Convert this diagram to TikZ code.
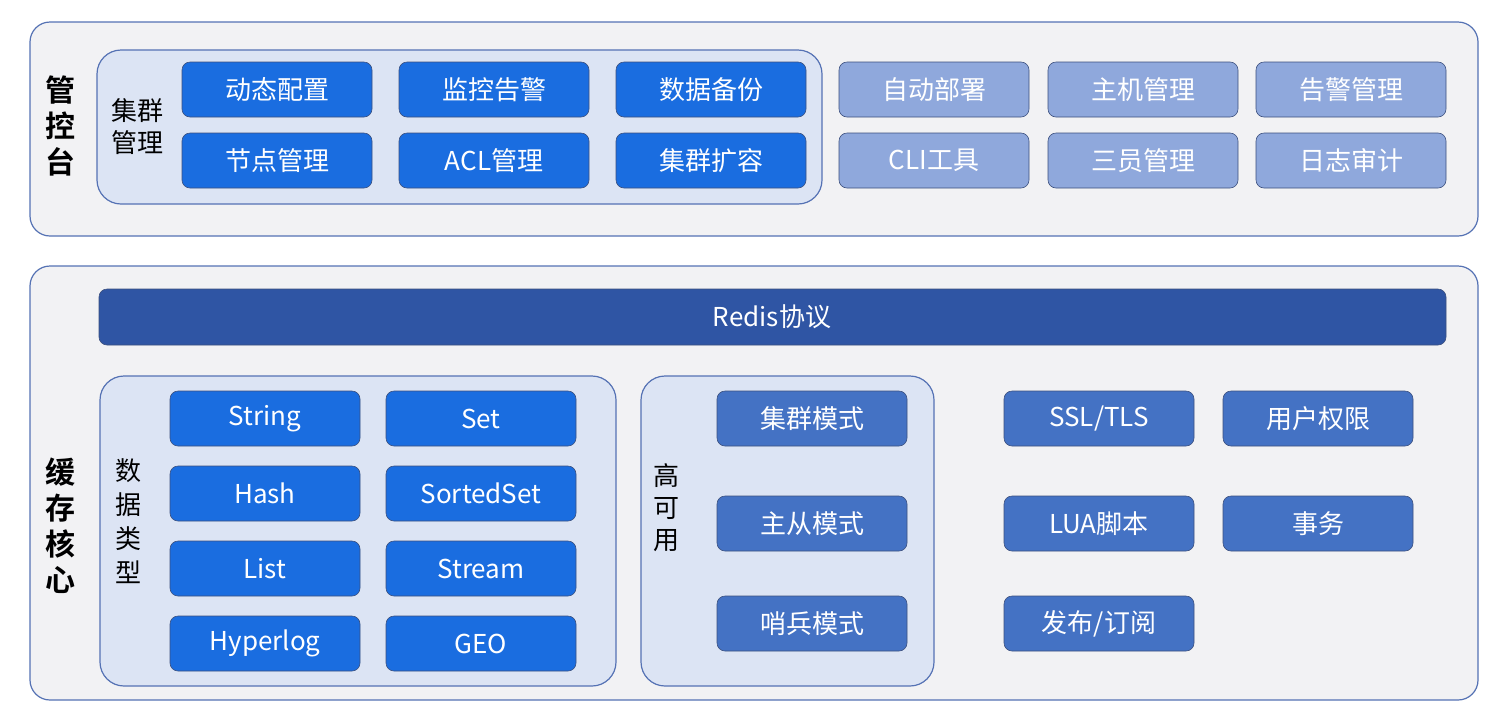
\documentclass[tikz,border=0pt]{standalone}
\usepackage{fontspec}
\setmainfont{Noto Sans CJK SC}
\newfontfamily\cjkbold[BoldFont={* Bold}]{Noto Sans CJK SC}
\definecolor{panelfill}{HTML}{F2F2F4}
\definecolor{panelline}{HTML}{5572B4}
\definecolor{groupfill}{HTML}{DCE4F4}
\definecolor{brightblue}{HTML}{1A6DE0}
\definecolor{paleblue}{HTML}{8FA8DC}
\definecolor{midblue}{HTML}{4472C4}
\definecolor{darkblue}{HTML}{2F55A4}
\tikzset{
  panel/.style={draw=panelline,fill=panelfill,line width=0.6pt,rounded corners=10pt},
  group/.style={draw=panelline,fill=groupfill,line width=0.6pt,rounded corners=12pt},
  item/.style={draw=panelline!70!black,line width=0.3pt,rounded corners=4pt,text=white,font=\fontsize{13}{13}\selectfont},
}
\newcommand{\itembox}[5]{% name, x0, y0, colour, text
  \draw[item,fill=#4] (#2,#3) rectangle ++(190,55);
  \node[text=white,font=\fontsize{13}{13}\selectfont] (#1) at (#2+95,#3+27.5) {#5};
}
\begin{document}
\begin{tikzpicture}[x=0.5pt,y=-0.5pt]
\useasboundingbox (0,0) rectangle (1502,719);
\fill[white] (0,0) rectangle (1502,719);
% panels
\draw[panel] (30,22) rectangle (1478,236);
\draw[panel] (30,266) rectangle (1478,700);
\draw[group] (97,50) rectangle (822,204);
\draw[group] (100,376) rectangle (616,686);
\draw[group] (641,376) rectangle (934,686);
% side titles
\node[font=\cjkbold\bfseries\fontsize{15}{18}\selectfont,align=center] (console) at (60,126) {管\\控\\台};
\node[font=\cjkbold\bfseries\fontsize{15}{18}\selectfont,align=center] (core) at (60,526) {缓\\存\\核\\心};
\node[font=\fontsize{13}{16}\selectfont,align=center] (cluster) at (137,127) {集群\\管理};
\node[font=\fontsize{13}{17}\selectfont,align=center] (types) at (128,521) {数\\据\\类\\型};
\node[font=\fontsize{13}{16}\selectfont,align=center] (ha) at (666,508) {高\\可\\用};
% console items
\itembox{dyn}{182}{62}{brightblue}{动态配置}
\itembox{mon}{399}{62}{brightblue}{监控告警}
\itembox{bak}{616}{62}{brightblue}{数据备份}
\itembox{node}{182}{133}{brightblue}{节点管理}
\itembox{acl}{399}{133}{brightblue}{ACL管理}
\itembox{scale}{616}{133}{brightblue}{集群扩容}
\itembox{deploy}{839}{62}{paleblue}{自动部署}
\itembox{host}{1048}{62}{paleblue}{主机管理}
\itembox{alarm}{1256}{62}{paleblue}{告警管理}
\itembox{cli}{839}{133}{paleblue}{CLI工具}
\itembox{three}{1048}{133}{paleblue}{三员管理}
\itembox{audit}{1256}{133}{paleblue}{日志审计}
% protocol bar
\draw[item,fill=darkblue] (99,289) rectangle (1446,345);
\node[text=white,font=\fontsize{13}{13}\selectfont] (redis) at (772,317) {Redis协议};
% data types
\itembox{str}{170}{391}{brightblue}{String}
\itembox{set}{386}{391}{brightblue}{Set}
\itembox{hash}{170}{466}{brightblue}{Hash}
\itembox{zset}{386}{466}{brightblue}{SortedSet}
\itembox{list}{170}{541}{brightblue}{List}
\itembox{stream}{386}{541}{brightblue}{Stream}
\itembox{hll}{170}{616}{brightblue}{Hyperlog}
\itembox{geo}{386}{616}{brightblue}{GEO}
% high availability
\itembox{clu}{717}{391}{midblue}{集群模式}
\itembox{ms}{717}{496}{midblue}{主从模式}
\itembox{sen}{717}{596}{midblue}{哨兵模式}
% other features
\itembox{ssl}{1004}{391}{midblue}{SSL/TLS}
\itembox{perm}{1223}{391}{midblue}{用户权限}
\itembox{lua}{1004}{496}{midblue}{LUA脚本}
\itembox{tx}{1223}{496}{midblue}{事务}
\itembox{pub}{1004}{596}{midblue}{发布/订阅}
\end{tikzpicture}
\end{document}
